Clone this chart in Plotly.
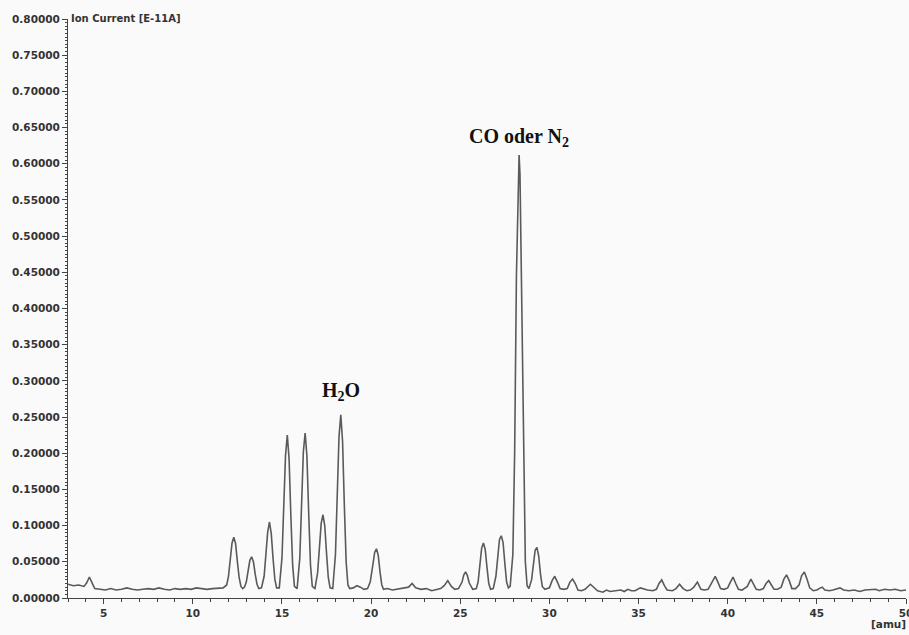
import plotly.graph_objects as go

# Mass spectrum trace (vertices)
amu = [3.0, 3.3, 3.6, 3.9, 4.05, 4.2, 4.35, 4.5, 4.8, 5.1, 5.4, 5.7, 6.0, 6.3, 6.6, 6.9, 7.2, 7.5, 7.8,
       8.1, 8.4, 8.7, 9.0, 9.3, 9.6, 9.9, 10.2, 10.5, 10.8, 11.1, 11.4, 11.7,
       11.9, 12.0, 12.1, 12.2, 12.3, 12.4, 12.5, 12.6, 12.7, 12.8, 12.9,
       13.0, 13.1, 13.2, 13.3, 13.4, 13.5, 13.6, 13.7, 13.85,
       14.0, 14.1, 14.2, 14.3, 14.4, 14.5, 14.6, 14.7, 14.85,
       15.0, 15.1, 15.2, 15.3, 15.4, 15.5, 15.6, 15.7, 15.85,
       16.0, 16.1, 16.2, 16.3, 16.4, 16.5, 16.6, 16.7, 16.85,
       17.0, 17.1, 17.2, 17.3, 17.4, 17.5, 17.6, 17.7, 17.85,
       18.0, 18.1, 18.2, 18.3, 18.4, 18.5, 18.6, 18.7, 18.8,
       19.0, 19.2, 19.4, 19.6, 19.8, 19.95, 20.1, 20.2, 20.3, 20.4, 20.5, 20.6, 20.7, 20.9,
       21.2, 21.5, 21.8, 22.1, 22.3, 22.5, 22.8, 23.1, 23.4, 23.7, 23.9, 24.1, 24.3, 24.5, 24.7, 24.9,
       25.1, 25.2, 25.3, 25.4, 25.5, 25.7, 25.9,
       26.0, 26.1, 26.2, 26.3, 26.4, 26.5, 26.6, 26.7, 26.85,
       27.0, 27.1, 27.2, 27.3, 27.4, 27.5, 27.6, 27.7, 27.8,
       27.95, 28.05, 28.15, 28.25, 28.3, 28.35, 28.45, 28.55, 28.65, 28.75, 28.85,
       29.0, 29.1, 29.2, 29.3, 29.4, 29.5, 29.6, 29.75,
       30.0, 30.15, 30.3, 30.45, 30.6, 30.8, 31.0, 31.15, 31.3, 31.45, 31.6, 31.8, 32.0, 32.3, 32.5,
       32.7, 33.0, 33.2, 33.4, 33.7, 34.0, 34.2, 34.4, 34.6, 34.8, 35.1, 35.3, 35.5, 35.8, 36.0,
       36.15, 36.3, 36.45, 36.6, 36.9, 37.1, 37.3, 37.5, 37.7, 37.9, 38.1, 38.3, 38.5, 38.7, 38.9,
       39.1, 39.3, 39.45, 39.6, 39.8, 40.0, 40.15, 40.3, 40.45, 40.6, 40.8, 41.1, 41.3, 41.45, 41.6,
       41.8, 42.0, 42.15, 42.3, 42.45, 42.6, 42.8, 43.0, 43.15, 43.3, 43.45, 43.6, 43.8, 44.0, 44.15,
       44.3, 44.45, 44.6, 44.8, 45.0, 45.2, 45.3, 45.45, 45.7, 45.9, 46.1, 46.3, 46.5, 46.8, 47.1,
       47.4, 47.7, 48.0, 48.3, 48.5, 48.8, 49.1, 49.4, 49.7, 50.0]

ion_current = [0.019, 0.017, 0.018, 0.016, 0.021, 0.029, 0.021, 0.013, 0.012, 0.011, 0.013, 0.011, 0.012, 0.014, 0.012, 0.011, 0.012, 0.013, 0.012,
               0.014, 0.012, 0.011, 0.013, 0.012, 0.013, 0.012, 0.014, 0.013, 0.012, 0.013, 0.013, 0.014,
               0.018, 0.030, 0.053, 0.076, 0.084, 0.075, 0.050, 0.028, 0.016, 0.013, 0.015,
               0.022, 0.037, 0.052, 0.057, 0.050, 0.033, 0.019, 0.013, 0.014,
               0.030, 0.059, 0.091, 0.105, 0.089, 0.055, 0.026, 0.014, 0.014,
               0.055, 0.124, 0.197, 0.225, 0.192, 0.113, 0.045, 0.016, 0.013,
               0.055, 0.128, 0.202, 0.228, 0.196, 0.117, 0.046, 0.016, 0.013,
               0.035, 0.071, 0.103, 0.115, 0.100, 0.062, 0.028, 0.014, 0.013,
               0.060, 0.140, 0.223, 0.253, 0.216, 0.127, 0.050, 0.018, 0.013,
               0.014, 0.017, 0.015, 0.012, 0.013, 0.022, 0.046, 0.063, 0.068, 0.059, 0.036, 0.018, 0.012, 0.013,
               0.011, 0.012, 0.013, 0.015, 0.020, 0.014, 0.012, 0.013, 0.010, 0.012, 0.013, 0.017, 0.024, 0.016, 0.012, 0.013,
               0.022, 0.032, 0.036, 0.031, 0.021, 0.012, 0.013,
               0.022, 0.046, 0.069, 0.076, 0.067, 0.042, 0.020, 0.012, 0.013,
               0.030, 0.059, 0.081, 0.086, 0.077, 0.048, 0.022, 0.014, 0.016,
               0.060, 0.200, 0.445, 0.595, 0.612, 0.585, 0.400, 0.160, 0.050, 0.017, 0.013,
               0.025, 0.050, 0.066, 0.070, 0.058, 0.033, 0.016, 0.012,
               0.014, 0.024, 0.030, 0.022, 0.013, 0.012, 0.013, 0.022, 0.026, 0.020, 0.011, 0.010, 0.012, 0.019, 0.014,
               0.010, 0.008, 0.011, 0.009, 0.010, 0.011, 0.009, 0.012, 0.010, 0.010, 0.014, 0.012, 0.011, 0.010, 0.012,
               0.020, 0.025, 0.017, 0.011, 0.010, 0.013, 0.019, 0.013, 0.010, 0.011, 0.015, 0.022, 0.012, 0.011, 0.012,
               0.022, 0.030, 0.022, 0.013, 0.012, 0.014, 0.022, 0.029, 0.020, 0.012, 0.011, 0.016, 0.026, 0.019, 0.012,
               0.011, 0.013, 0.020, 0.024, 0.018, 0.012, 0.012, 0.015, 0.026, 0.032, 0.024, 0.013, 0.013, 0.018, 0.031,
               0.036, 0.026, 0.014, 0.010, 0.011, 0.014, 0.015, 0.011, 0.010, 0.011, 0.012, 0.014, 0.011, 0.010, 0.011,
               0.009, 0.011, 0.011, 0.012, 0.010, 0.012, 0.011, 0.012, 0.010, 0.011]

y_ticks = [0.0, 0.05, 0.10, 0.15, 0.20, 0.25, 0.30, 0.35, 0.40, 0.45, 0.50, 0.55, 0.60, 0.65, 0.70, 0.75, 0.80]
y_tick_labels = ["%.5f" % v for v in y_ticks]
x_ticks = [5, 10, 15, 20, 25, 30, 35, 40, 45, 50]
x_tick_labels = ["5", "10", "15", "20", "25", "30", "35", "40", "45", "50"]

peak_labels = ["H<sub>2</sub>O", "CO oder N<sub>2</sub>"]
peak_label_x = [18.3, 28.28]
peak_label_y = [0.285, 0.636]

bg = "#fafafa"
axis_col = "#444444"
fig = go.Figure()
fig.add_trace(go.Scatter(x=amu, y=ion_current, mode="lines",
                         line=dict(color="#5a5a5a", width=1.6), hoverinfo="skip"))

tickfont = dict(family="DejaVu Sans", size=10.5, color="#333333", weight="bold")
fig.update_layout(
    width=909, height=635,
    margin=dict(l=68, r=3, t=19, b=37, autoexpand=False),
    paper_bgcolor=bg, plot_bgcolor=bg,
    showlegend=False,
    xaxis=dict(range=[3, 50], tickvals=x_ticks, ticktext=x_tick_labels, automargin=False,
               ticklabeloverflow="allow",
               showgrid=False, zeroline=False, showline=True, linecolor=axis_col, linewidth=1,
               ticks="outside", ticklen=5, tickcolor=axis_col, tickfont=tickfont,
               minor=dict(dtick=1, ticks="outside", ticklen=3, tickcolor=axis_col)),
    yaxis=dict(range=[0, 0.8], tickvals=y_ticks, ticktext=y_tick_labels, automargin=False,
               showgrid=False, zeroline=False, showline=True, linecolor=axis_col, linewidth=1,
               ticks="outside", ticklen=5, tickcolor=axis_col, tickfont=tickfont,
               minor=dict(dtick=0.005, ticks="outside", ticklen=2, tickcolor=axis_col)),
)

for txt, px, py in zip(peak_labels, peak_label_x, peak_label_y):
    fig.add_annotation(x=px, y=py, text="<b>" + txt + "</b>", showarrow=False,
                       font=dict(family="Liberation Serif", size=20, color="#111111"))

fig.add_annotation(xref="paper", yref="paper", x=0, y=1, xanchor="left", yanchor="middle",
                   xshift=1, yshift=1, text="<b>Ion Current [E-11A]</b>", showarrow=False,
                   font=dict(family="DejaVu Sans", size=10, color="#333333"))
fig.add_annotation(xref="paper", yref="paper", x=1, y=0, xanchor="right", yanchor="top",
                   yshift=-18, xshift=2, text="<b>[amu]</b>", showarrow=False,
                   font=dict(family="DejaVu Sans", size=10.5, color="#333333"))

fig.write_html("out.html", config={"displayModeBar": False},
               post_script="document.body.style.margin='0';document.body.style.overflow='hidden';")
